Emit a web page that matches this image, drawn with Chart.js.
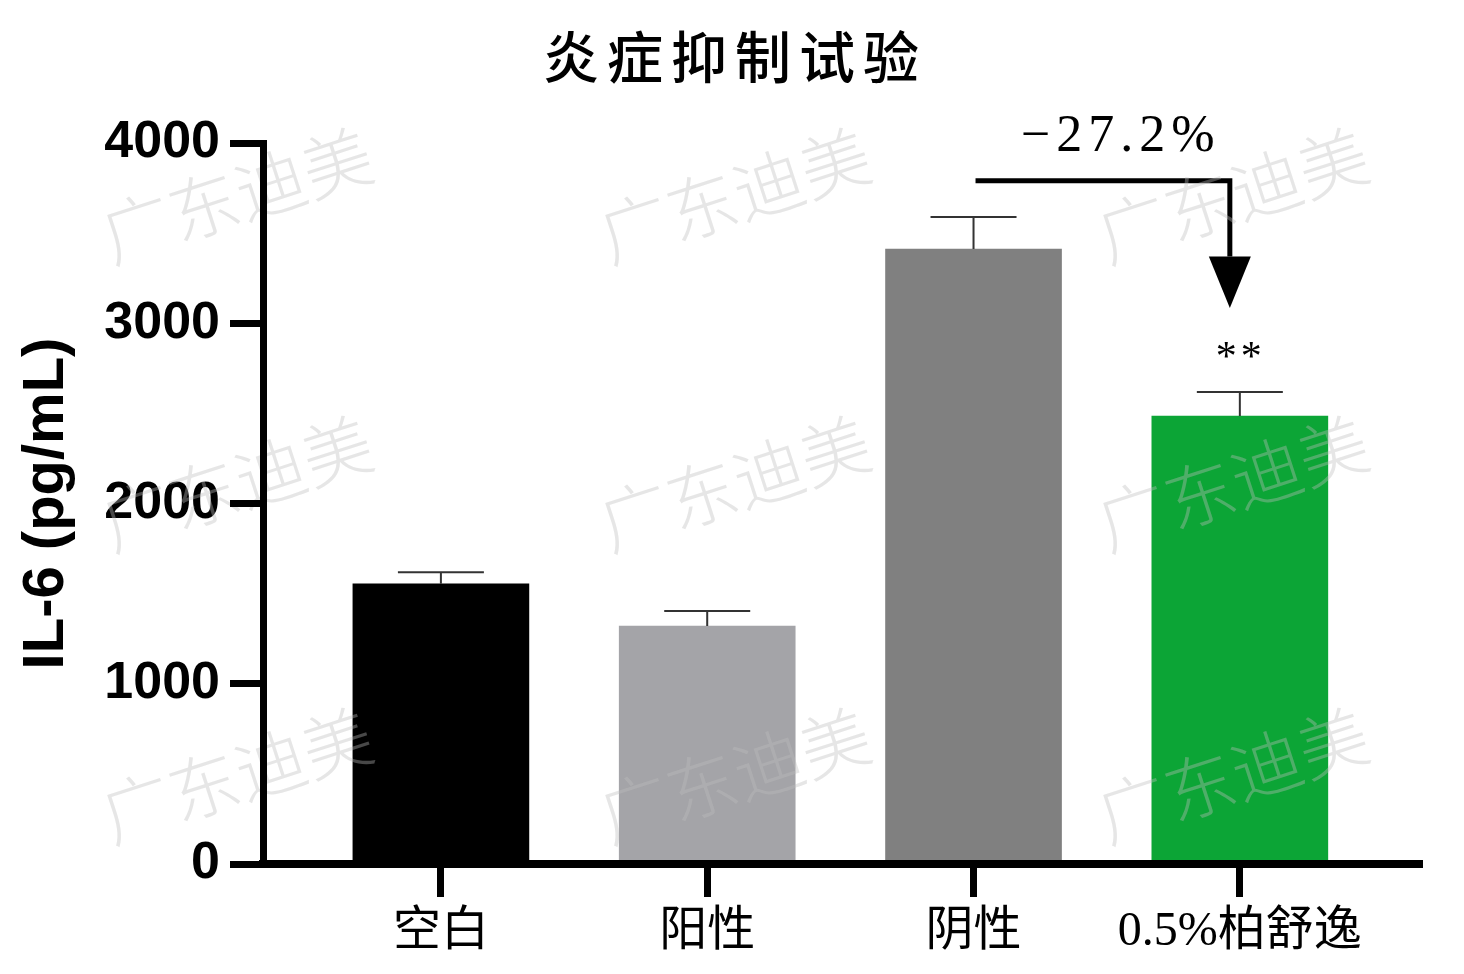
<!DOCTYPE html>
<html>
<head>
<meta charset="utf-8">
<script src="https://cdn.jsdelivr.net/npm/chart.js@4"></script>
<style>
  html, body { margin: 0; padding: 0; background: #fff; }
  canvas { display: block; }
</style>
</head>
<body>
<canvas id="myChart" width="1464" height="974"></canvas>
<script>
// data
const categories = ["空白", "阳性", "阴性", "0.5%柏舒逸"];
const means = [1555, 1320, 3412, 2485];
const errors = [63, 83, 178, 133];
const barColors = ["#000000", "#a4a4a8", "#808080", "#0ca536"];
const yTicks = [0, 1000, 2000, 3000, 4000];

const title = "炎症抑制试验";
const yTitle = "IL-6 (pg/mL)";
const watermark = "广东迪美";

// change between 阴性 and the sample
const change = (((means[3] - means[2]) / means[2]) * 100).toFixed(1);

const extras = {
  id: "extras",
  afterDatasetsDraw(chart) {
    const { ctx, scales: { x, y } } = chart;
    ctx.save();

    // error bars (mean + SD)
    ctx.strokeStyle = "#333";
    ctx.lineWidth = 2;
    means.forEach((m, i) => {
      const cx = x.getPixelForValue(i);
      const base = y.getPixelForValue(m);
      const top = y.getPixelForValue(m + errors[i]);
      ctx.beginPath();
      ctx.moveTo(cx, base);
      ctx.lineTo(cx, top);
      ctx.moveTo(cx - 43, top);
      ctx.lineTo(cx + 43, top);
      ctx.stroke();
    });

    // arrow from 阴性 to the sample bar
    const x1 = x.getPixelForValue(2) + 2;
    const x2 = x.getPixelForValue(3) - 10;
    const lineY = y.getPixelForValue(3790);
    const headTop = y.getPixelForValue(3370);
    const headTip = y.getPixelForValue(3085);
    ctx.strokeStyle = "#000";
    ctx.lineWidth = 5;
    ctx.beginPath();
    ctx.moveTo(x1, lineY);
    ctx.lineTo(x2, lineY);
    ctx.lineTo(x2, headTop);
    ctx.stroke();
    ctx.fillStyle = "#000";
    ctx.beginPath();
    ctx.moveTo(x2 - 21, headTop);
    ctx.lineTo(x2 + 21, headTop);
    ctx.lineTo(x2, headTip);
    ctx.closePath();
    ctx.fill();

    ctx.font = '52px "Liberation Serif", serif';
    ctx.letterSpacing = "6px";
    ctx.textAlign = "center";
    ctx.textBaseline = "middle";
    ctx.fillText("\u2212" + Math.abs(change) + "%", (x1 + x2) / 2 + 18, lineY - 44);

    // significance stars
    ctx.font = '42px "Liberation Serif", serif';
    ctx.letterSpacing = "4px";
    ctx.textBaseline = "alphabetic";
    const starBase = y.getPixelForValue(means[3] + errors[3]) - 22;
    ctx.fillText("**", x.getPixelForValue(3) + 1, starBase);

    // watermark
    ctx.letterSpacing = "0px";
    ctx.font = '300 70px "Noto Sans CJK SC", sans-serif';
    ctx.fillStyle = "rgba(190, 190, 190, 0.38)";
    [237, 735, 1233].forEach((wx) => {
      [195, 483, 775].forEach((wy) => {
        ctx.save();
        ctx.translate(wx, wy);
        ctx.rotate((-18 * Math.PI) / 180);
        ctx.textAlign = "center";
        ctx.textBaseline = "middle";
        ctx.fillText(watermark, 0, 0);
        ctx.restore();
      });
    });

    ctx.restore();
  },
  afterDraw(chart) {
    const ctx = chart.ctx;
    ctx.save();
    ctx.font = '500 56px "Noto Sans CJK SC", sans-serif';
    ctx.letterSpacing = "8px";
    ctx.fillStyle = "#000";
    ctx.textAlign = "center";
    ctx.textBaseline = "middle";
    ctx.fillText(title, 735, 57);
    ctx.restore();
  },
};

const ctx = document.getElementById("myChart");

new Chart(ctx, {
  type: "bar",
  data: {
    datasets: [
      {
        data: means.map((v, i) => ({ x: i, y: v })),
        backgroundColor: barColors,
        borderWidth: 0,
        barThickness: 176,
      },
    ],
  },
  options: {
    responsive: false,
    animation: false,
    layout: {
      padding: { top: 143, right: 42, left: 0, bottom: 0 },
    },
    plugins: {
      legend: { display: false },
      tooltip: { enabled: false },
    },
    scales: {
      x: {
        type: "linear",
        min: -0.668,
        max: 3.684,
        offset: false,
        afterFit: (scale) => {
          scale.height = 110;
        },
        afterBuildTicks: (scale) => {
          scale.ticks = categories.map((c, i) => ({ value: i }));
        },
        border: { display: true, color: "#000", width: 8, z: 1 },
        grid: {
          offset: false,
          drawOnChartArea: false,
          drawTicks: true,
          tickLength: 33,
          tickWidth: 7,
          tickColor: "#000",
          z: 1,
        },
        ticks: {
          autoSkip: false,
          maxRotation: 0,
          padding: 7,
          color: "#000",
          font: { family: '"Liberation Serif", "Noto Sans CJK SC", serif', size: 48 },
          callback: (value) => categories[Math.round(value)],
        },
      },
      y: {
        min: 0,
        max: 4000,
        afterFit: (scale) => {
          scale.width = 263;
        },
        afterBuildTicks: (scale) => {
          scale.ticks = yTicks.map((v) => ({ value: v }));
        },
        border: { display: true, color: "#000", width: 7, z: 1 },
        grid: {
          drawOnChartArea: false,
          drawTicks: true,
          tickLength: 33,
          tickWidth: 7,
          tickColor: "#000",
          z: 1,
        },
        ticks: {
          padding: 10,
          color: "#000",
          font: { family: '"Liberation Sans", Arial, sans-serif', size: 52, weight: "bold" },
          callback: (value) => String(value),
        },
        title: {
          display: true,
          text: yTitle,
          color: "#000",
          padding: { top: 12, bottom: 0 },
          font: { family: '"Liberation Sans", Arial, sans-serif', size: 58, weight: "bold" },
        },
      },
    },
  },
  plugins: [extras],
});
</script>
</body>
</html>
